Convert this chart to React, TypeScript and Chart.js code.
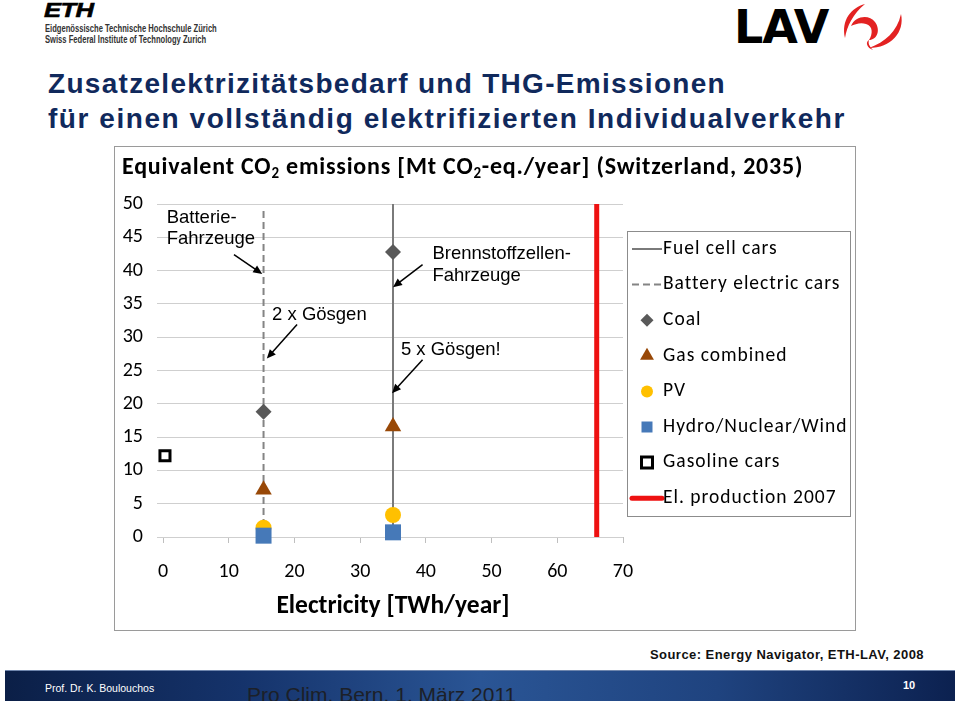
import React, { useEffect, useRef } from "react";
import { Chart, registerables } from "chart.js";

Chart.register(...registerables);

// ---------- data ----------
const xTickValues = [0, 10, 20, 30, 40, 50, 60, 70];
const yTickValues = [0, 5, 10, 15, 20, 25, 30, 35, 40, 45, 50];

// index 0 = battery electric cars, index 1 = fuel cell cars
const carElectricity = [15.3, 35.0]; // TWh/year
const coalEmissions = [18.8, 42.8];
const gasEmissions = [7.1, 16.6];
const pvEmissions = [1.4, 3.3];
const hydroEmissions = [0.2, 0.7];

const gasolineElectricity = [0.3];
const gasolineEmissions = [12.2];

const fuelCellLineRange = [0, 50];
const batteryLineRange = [0, 49];
const elProduction2007 = [66];
const elProductionRange = [0, 50];

const legendLabels = [
  "Fuel cell cars",
  "Battery electric cars",
  "Coal",
  "Gas combined",
  "PV",
  "Hydro/Nuclear/Wind",
  "Gasoline cars",
  "El. production 2007",
];

// annotation texts (data coordinates)
const noteTexts = ["Batterie-", "Fahrzeuge", "2 x Gösgen", "Brennstoffzellen-", "Fahrzeuge", "5 x Gösgen!"];
const noteX = [0.56, 0.56, 16.6, 41.0, 41.0, 36.2];
const noteY = [47.9, 44.7, 33.3, 42.5, 39.2, 28.1];

// arrows (data coordinates): from -> to
const arrowFromX = [10.8, 20.4, 39.5, 39.5];
const arrowFromY = [42.4, 31.9, 40.9, 26.6];
const arrowToX = [15.1, 15.8, 35.0, 34.85];
const arrowToY = [39.5, 26.8, 37.5, 21.6];

const titleSegments = [
  { text: "Equivalent CO", sub: false },
  { text: "2", sub: true },
  { text: " emissions [Mt CO", sub: false },
  { text: "2", sub: true },
  { text: "-eq./year] (Switzerland, 2035)", sub: false },
];

// ---------- styles ----------
const CAL = "Carlito, Lato, 'Open Sans', sans-serif";
const ARIAL = "'Liberation Sans', Arial, Helvetica, sans-serif";

function drawArrow(ctx: CanvasRenderingContext2D, x1: number, y1: number, x2: number, y2: number) {
  const ang = Math.atan2(y2 - y1, x2 - x1);
  const head = 9;
  const hw = 4;
  ctx.beginPath();
  ctx.moveTo(x1, y1);
  ctx.lineTo(x2 - Math.cos(ang) * head * 0.7, y2 - Math.sin(ang) * head * 0.7);
  ctx.stroke();
  ctx.beginPath();
  ctx.moveTo(x2, y2);
  ctx.lineTo(x2 - head * Math.cos(ang) + hw * Math.sin(ang), y2 - head * Math.sin(ang) - hw * Math.cos(ang));
  ctx.lineTo(x2 - head * Math.cos(ang) - hw * Math.sin(ang), y2 - head * Math.sin(ang) + hw * Math.cos(ang));
  ctx.closePath();
  ctx.fill();
}

function drawSymbol(ctx: CanvasRenderingContext2D, ds: any, cx: number, cy: number) {
  const style = ds.pointStyle;
  ctx.fillStyle = ds.backgroundColor;
  ctx.strokeStyle = ds.borderColor;
  ctx.beginPath();
  if (style === "rectRot") {
    const r = 6.5;
    ctx.moveTo(cx, cy - r);
    ctx.lineTo(cx + r, cy);
    ctx.lineTo(cx, cy + r);
    ctx.lineTo(cx - r, cy);
    ctx.closePath();
    ctx.fill();
  } else if (style === "triangle") {
    const r = 8;
    ctx.moveTo(cx, cy - r);
    ctx.lineTo(cx + r * 0.866, cy + r / 2);
    ctx.lineTo(cx - r * 0.866, cy + r / 2);
    ctx.closePath();
    ctx.fill();
  } else if (style === "circle") {
    ctx.arc(cx, cy, 6, 0, Math.PI * 2);
    ctx.fill();
  } else if (style === "rect") {
    const h = 5.5;
    ctx.rect(cx - h, cy - h, 2 * h, 2 * h);
    ctx.fill();
    if (ds.borderWidth > 0) {
      ctx.lineWidth = ds.borderWidth;
      ctx.stroke();
    }
  }
}

const slidePlugin = {
  id: "slideExtras",
  afterDatasetsDraw(chart: any) {
    const ctx: any = chart.ctx;
    const xs = chart.scales.x;
    const ys = chart.scales.y;
    ctx.save();

    // chart title with subscripts
    let tx = 7;
    const ty = 21;
    ctx.textBaseline = "middle";
    ctx.textAlign = "left";
    ctx.fillStyle = "#000";
    ctx.letterSpacing = "0.8px";
    for (const seg of titleSegments) {
      ctx.font = seg.sub ? `bold 15px ${CAL}` : `bold 24px ${CAL}`;
      ctx.fillText(seg.text, tx, seg.sub ? ty + 6 : ty);
      tx += ctx.measureText(seg.text).width;
    }
    ctx.letterSpacing = "0px";

    // annotations
    ctx.font = `18.5px ${ARIAL}`;
    ctx.fillStyle = "#000";
    noteTexts.forEach((t, i) => {
      ctx.fillText(t, xs.getPixelForValue(noteX[i]), ys.getPixelForValue(noteY[i]));
    });
    ctx.strokeStyle = "#000";
    ctx.fillStyle = "#000";
    ctx.lineWidth = 1.5;
    arrowFromX.forEach((_, i) => {
      drawArrow(
        ctx,
        xs.getPixelForValue(arrowFromX[i]),
        ys.getPixelForValue(arrowFromY[i]),
        xs.getPixelForValue(arrowToX[i]),
        ys.getPixelForValue(arrowToY[i])
      );
    });

    // legend box
    const lx = 512.5;
    const ly = 84.5;
    const lw = 223;
    const lh = 285;
    ctx.strokeStyle = "#8c8c8c";
    ctx.lineWidth = 1;
    ctx.setLineDash([]);
    ctx.strokeRect(lx, ly, lw, lh);
    const rowY0 = 102;
    const rowStep = 35.6;
    legendLabels.forEach((label, i) => {
      const ds = chart.data.datasets.find((d: any) => d.label === label);
      const cy = rowY0 + i * rowStep;
      if (ds.type === "line") {
        ctx.save();
        ctx.strokeStyle = ds.borderColor;
        ctx.lineWidth = ds.borderWidth;
        ctx.setLineDash(ds.borderDash || []);
        ctx.lineCap = ds.borderWidth > 3 ? "round" : "butt";
        ctx.beginPath();
        ctx.moveTo(517, cy);
        ctx.lineTo(547, cy);
        ctx.stroke();
        ctx.restore();
      } else {
        drawSymbol(ctx, ds, 532, cy);
      }
      ctx.fillStyle = "#000";
      ctx.font = `19.5px ${CAL}`;
      ctx.letterSpacing = "1px";
      ctx.textBaseline = "middle";
      ctx.fillText(label, 548, cy);
      ctx.letterSpacing = "0px";
    });
    ctx.restore();
  },
};

function ChartBox() {
  const ref = useRef<HTMLCanvasElement | null>(null);
  useEffect(() => {
    if (!ref.current) return;
    const tickFont = { family: CAL, size: 20 };
    const chart = new Chart(ref.current, {
      type: "scatter",
      data: {
        datasets: [
          {
            type: "line",
            label: "Fuel cell cars",
            data: fuelCellLineRange.map((y) => ({ x: carElectricity[1], y })),
            borderColor: "#7a7a7a",
            borderWidth: 2,
            pointRadius: 0,
            order: 10,
            clip: false,
          } as any,
          {
            type: "line",
            label: "Battery electric cars",
            data: batteryLineRange.map((y) => ({ x: carElectricity[0], y })),
            borderColor: "#848484",
            borderWidth: 2,
            borderDash: [7, 4],
            pointRadius: 0,
            order: 10,
            clip: false,
          },
          {
            label: "Coal",
            data: carElectricity.map((x, i) => ({ x, y: coalEmissions[i] })),
            pointStyle: "rectRot",
            pointRadius: 8,
            backgroundColor: "#595959",
            borderColor: "#595959",
            borderWidth: 0,
            order: 5,
            clip: false,
          },
          {
            label: "Gas combined",
            data: carElectricity.map((x, i) => ({ x, y: gasEmissions[i] })),
            pointStyle: "triangle",
            pointRadius: 9.5,
            backgroundColor: "#984807",
            borderColor: "#984807",
            borderWidth: 0,
            order: 4,
            clip: false,
          },
          {
            label: "PV",
            data: carElectricity.map((x, i) => ({ x, y: pvEmissions[i] })),
            pointStyle: "circle",
            pointRadius: 8,
            backgroundColor: "#ffc000",
            borderColor: "#ffc000",
            borderWidth: 0,
            order: 3,
            clip: false,
          },
          {
            label: "Hydro/Nuclear/Wind",
            data: carElectricity.map((x, i) => ({ x, y: hydroEmissions[i] })),
            pointStyle: "rect",
            pointRadius: 11.3,
            backgroundColor: "#4679b8",
            borderColor: "#4679b8",
            borderWidth: 0,
            order: 2,
            clip: false,
          },
          {
            label: "Gasoline cars",
            data: gasolineElectricity.map((x, i) => ({ x, y: gasolineEmissions[i] })),
            pointStyle: "rect",
            pointRadius: 7.1,
            backgroundColor: "#ffffff",
            borderColor: "#000000",
            borderWidth: 3,
            order: 1,
            clip: false,
          },
          {
            type: "line",
            label: "El. production 2007",
            data: elProductionRange.map((y) => ({ x: elProduction2007[0], y })),
            borderColor: "#ee1111",
            borderWidth: 5,
            pointRadius: 0,
            order: 10,
            clip: false,
          },
        ] as any,
      },
      options: {
        responsive: false,
        animation: false,
        events: [],
        layout: { padding: { top: 57, right: 232, left: 0, bottom: 0 } },
        plugins: {
          legend: { display: false },
          tooltip: { enabled: false },
          title: { display: false },
        },
        scales: {
          x: {
            type: "linear",
            min: 0,
            max: 70,
            afterBuildTicks: (s: any) => {
              s.ticks = xTickValues.map((v) => ({ value: v }));
            },
            afterFit: (s: any) => {
              s.height = 93;
            },
            grid: { drawOnChartArea: false, drawTicks: true, tickLength: 6, color: "#bfbfbf" },
            border: { display: false },
            ticks: { font: tickFont, color: "#000", padding: 17, maxRotation: 0, autoSkip: false },
            title: {
              display: true,
              text: "Electricity [TWh/year]",
              color: "#000",
              font: { family: CAL, size: 25.5, weight: "bold" },
              padding: { top: 0, bottom: 8 },
            },
          },
          y: {
            type: "linear",
            min: 0,
            max: 50,
            afterBuildTicks: (s: any) => {
              s.ticks = yTickValues.map((v) => ({ value: v }));
            },
            afterFit: (s: any) => {
              s.width = 48;
            },
            grid: { color: "#cfcfcf", drawTicks: true, tickLength: 6 },
            border: { display: false },
            ticks: { font: tickFont, color: "#000", padding: 14, autoSkip: false },
          },
        },
      } as any,
      plugins: [slidePlugin],
    });
    return () => chart.destroy();
  }, []);
  return <canvas ref={ref} width={740} height={483} style={{ display: "block", width: 740, height: 483 }} />;
}

export default function App() {
  return (
    <div
      style={{
        position: "absolute",
        left: 0,
        top: 0,
        width: 960,
        height: 701,
        background: "#fff",
        overflow: "hidden",
        fontFamily: ARIAL,
      }}
    >
      {/* ETH logo */}
      <div
        style={{
          position: "absolute",
          left: 44,
          top: -1,
          fontFamily: ARIAL,
          fontWeight: 900,
          fontStyle: "italic",
          fontSize: 21,
          lineHeight: "22px",
          transform: "scaleX(1.22)",
          transformOrigin: "left top",
          color: "#000",
          letterSpacing: -0.5,
          WebkitTextStroke: "0.6px #000",
        }}
      >
        ETH
      </div>
      <div
        style={{
          position: "absolute",
          left: 45,
          top: 24,
          fontSize: 10,
          lineHeight: "10.5px",
          color: "#333",
          fontWeight: 600,
          whiteSpace: "nowrap",
          transform: "scaleX(0.76)",
          transformOrigin: "left top",
        }}
      >
        <div>Eidgenössische Technische Hochschule Zürich</div>
        <div>Swiss Federal Institute of Technology Zurich</div>
      </div>

      {/* LAV logo */}
      <div
        style={{
          position: "absolute",
          left: 734,
          top: 1,
          fontSize: 46,
          lineHeight: "52px",
          fontWeight: 900,
          fontFamily: "'DejaVu Sans', " + ARIAL,
          color: "#000",
          transform: "scaleX(1.0)",
          transformOrigin: "left top",
          letterSpacing: -1,
        }}
      >
        LAV
      </div>
      <svg style={{ position: "absolute", left: 835, top: 2 }} width={75} height={52} viewBox="0 0 75 52">
        <path d="M30 2 C16 6 6 18 10 36 C12 24 18 12 30 2 Z" fill="#e32222" />
        <path d="M16 24 C20 14 34 12 40 20 C46 28 42 38 34 38 C38 32 38 24 31 22 C26 20 20 22 16 24 Z" fill="#e32222" />
        <path d="M34 38 C30 40 32 46 38 48 C34 44 33 41 34 38 Z" fill="#e32222" />
        <path d="M66 12 C70 30 56 46 34 46 C50 40 62 30 66 12 Z" fill="#e32222" />
      </svg>

      {/* slide title */}
      <div
        style={{
          position: "absolute",
          left: 48,
          top: 66,
          fontSize: 28,
          lineHeight: "35px",
          fontWeight: 700,
          color: "#10295c",
          letterSpacing: 1.3,
          whiteSpace: "nowrap",
        }}
      >
        <div>Zusatzelektrizitätsbedarf und THG-Emissionen</div>
        <div style={{ letterSpacing: 1.55 }}>für einen vollständig elektrifizierten Individualverkehr</div>
      </div>

      {/* chart */}
      <div
        style={{
          position: "absolute",
          left: 114,
          top: 146,
          width: 742,
          height: 485,
          boxSizing: "border-box",
          border: "1px solid #9a9a9a",
          background: "#fff",
        }}
      >
        <ChartBox />
      </div>

      {/* source */}
      <div
        style={{
          position: "absolute",
          right: 36,
          top: 647,
          fontSize: 13,
          lineHeight: "16px",
          fontWeight: 700,
          letterSpacing: 0.45,
          color: "#111",
          whiteSpace: "nowrap",
        }}
      >
        Source: Energy Navigator, ETH-LAV, 2008
      </div>

      {/* footer */}
      <div
        style={{
          position: "absolute",
          left: 5,
          top: 670,
          width: 950,
          height: 31,
          background:
            "linear-gradient(90deg, #0b1f47 0%, #15336b 25%, #2a5595 50%, #1f437f 75%, #0c2150 100%)",
          borderTop: "1px solid #6f86ad",
          boxSizing: "border-box",
          overflow: "hidden",
        }}
      >
        <div
          style={{
            position: "absolute",
            left: 40,
            top: 11,
            fontSize: 10.5,
            lineHeight: "12px",
            color: "#fff",
            whiteSpace: "nowrap",
          }}
        >
          Prof. Dr. K. Boulouchos
        </div>
        <div
          style={{
            position: "absolute",
            left: 242,
            top: 12,
            fontSize: 21,
            lineHeight: "24px",
            color: "#1c2028",
            whiteSpace: "nowrap",
          }}
        >
          Pro Clim, Bern, 1. März 2011
        </div>
        <div
          style={{
            position: "absolute",
            left: 898,
            top: 8,
            fontSize: 11,
            lineHeight: "13px",
            fontWeight: 700,
            color: "#fff",
          }}
        >
          10
        </div>
      </div>
    </div>
  );
}
